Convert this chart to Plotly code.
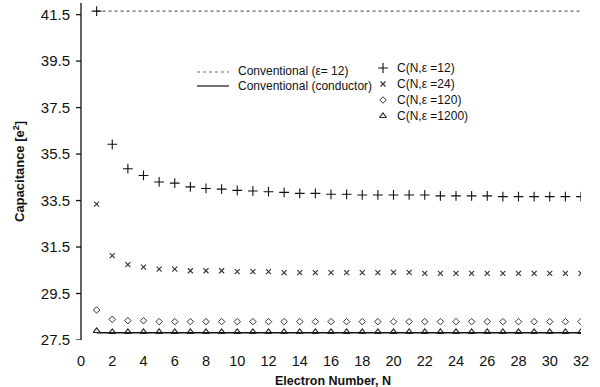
import plotly.graph_objects as go

# ---- data ----
N = list(range(1, 33))
c_eps12 = [41.65, 35.92, 34.87, 34.58, 34.30, 34.25, 34.09, 34.02, 33.99, 33.94,
           33.91, 33.88, 33.85, 33.81, 33.81, 33.77, 33.77, 33.74, 33.74, 33.74,
           33.74, 33.74, 33.70, 33.70, 33.70, 33.70, 33.67, 33.67, 33.67, 33.67,
           33.67, 33.67]
c_eps24 = [33.35, 31.13, 30.74, 30.64, 30.55, 30.55, 30.48, 30.48, 30.48, 30.44,
           30.44, 30.44, 30.40, 30.40, 30.40, 30.40, 30.40, 30.40, 30.40, 30.41,
           30.41, 30.37, 30.37, 30.37, 30.37, 30.37, 30.37, 30.37, 30.37, 30.37,
           30.37, 30.37]
c_eps120 = [28.79, 28.39, 28.33, 28.33] + [28.29] * 28
c_eps1200 = [27.89] + [27.85] * 31
conv_eps12 = 41.65
conv_conductor = 27.81
conv_N = [1, 32]

x_ticks = list(range(0, 33, 2))
y_ticks = [27.5, 29.5, 31.5, 33.5, 35.5, 37.5, 39.5, 41.5]

line_labels = ["Conventional (\u03b5= 12)", "Conventional (conductor)"]
marker_labels = ["C(N,\u03b5 =12)", "C(N,\u03b5 =24)", "C(N,\u03b5 =120)", "C(N,\u03b5 =1200)"]

FONT = "Liberation Sans, Arial, sans-serif"

# plot-area geometry (pixels); x range starts slightly below 0 so that the
# y-axis line (at x = 0) and its outside ticks lie inside the drawing area
L, R, T, B = 75, 581, 3, 340
X_RANGE = [-0.384, 32]
Y_RANGE = [27.5, 42.0]
TICK_LEN = 0.32  # in x units (~5 px)


def px_paper(px, py):
    return (px - L) / (R - L), (B - py) / (B - T)


def px_data(px, py):
    xp, yp = px_paper(px, py)
    return (X_RANGE[0] + xp * (X_RANGE[1] - X_RANGE[0]),
            Y_RANGE[0] + yp * (Y_RANGE[1] - Y_RANGE[0]))


fig = go.Figure()

# y-axis line and tick marks, drawn as traces on the axis scale
fig.add_trace(go.Scatter(x=[0, 0], y=Y_RANGE, mode="lines",
                         line=dict(color="#111111", width=1.3),
                         showlegend=False, hoverinfo="skip"))
tx, ty = [], []
for t in y_ticks:
    tx += [-TICK_LEN, 0, None]
    ty += [t, t, None]
fig.add_trace(go.Scatter(x=tx, y=ty, mode="lines",
                         line=dict(color="#111111", width=1.3),
                         showlegend=False, hoverinfo="skip"))

fig.add_trace(go.Scatter(x=conv_N, y=[conv_eps12] * 2, mode="lines",
                         line=dict(color="#666666", width=1.3, dash="dot"),
                         showlegend=False))
fig.add_trace(go.Scatter(x=conv_N, y=[conv_conductor] * 2, mode="lines",
                         line=dict(color="#111111", width=1.4),
                         showlegend=False))

styles = [
    dict(symbol="cross-thin-open", size=7, line=dict(width=1.1, color="#111111"), color="#111111"),
    dict(symbol="x-thin-open", size=5, line=dict(width=1.1, color="#333333"), color="#333333"),
    dict(symbol="diamond-open", size=5, line=dict(width=1.0, color="#333333"), color="#333333"),
    dict(symbol="triangle-up-open", size=6, line=dict(width=1.1, color="#222222"), color="#222222"),
]
for ys, st in zip([c_eps12, c_eps24, c_eps120, c_eps1200], styles):
    fig.add_trace(go.Scatter(x=N, y=ys, mode="markers", marker=st, showlegend=False))

# ---- custom legend ----
shapes = []
for py, dash, col in [(72, "dot", "#666666"), (86, "solid", "#111111")]:
    x0, y0 = px_paper(197, py)
    x1, _ = px_paper(229, py)
    shapes.append(dict(type="line", xref="paper", yref="paper", x0=x0, x1=x1, y0=y0, y1=y0,
                       line=dict(color=col, width=1.2, dash=dash)))

leg_rows = [68, 84, 100, 116]
for py, st in zip(leg_rows, styles):
    xd, yd = px_data(383, py)
    fig.add_trace(go.Scatter(x=[xd], y=[yd], mode="markers", marker=st,
                             showlegend=False, hoverinfo="skip"))

annos = []
for py, txt in zip([71, 86], line_labels):
    xp, yp = px_paper(236, py)
    annos.append(dict(x=xp, y=yp, xref="paper", yref="paper", text=txt, showarrow=False,
                      xanchor="left", yanchor="middle",
                      font=dict(family=FONT, size=12, color="#111111")))
for py, txt in zip(leg_rows, marker_labels):
    xp, yp = px_paper(395, py)
    annos.append(dict(x=xp, y=yp, xref="paper", yref="paper", text=txt, showarrow=False,
                      xanchor="left", yanchor="middle",
                      font=dict(family=FONT, size=12, color="#111111")))

# axis titles
xp, yp = px_paper(19, 172)
annos.append(dict(x=xp, y=yp, xref="paper", yref="paper",
                  text="<b>Capacitance [e<sup>2</sup>]</b>",
                  showarrow=False, textangle=-90, xanchor="center", yanchor="middle",
                  font=dict(family=FONT, size=13, color="#111111")))
xp, yp = px_paper(333, 381)
annos.append(dict(x=xp, y=yp, xref="paper", yref="paper",
                  text="<b>Electron Number, N</b>",
                  showarrow=False, xanchor="center", yanchor="middle",
                  font=dict(family=FONT, size=12.5, color="#111111")))

fig.update_layout(
    width=600, height=387,
    margin=dict(l=L, r=600 - R, t=T, b=387 - B),
    paper_bgcolor="white", plot_bgcolor="rgba(0,0,0,0)",
    font=dict(family=FONT, color="#111111"),
    annotations=annos,
    shapes=shapes,
    xaxis=dict(range=X_RANGE, tickvals=x_ticks, ticktext=[str(v) for v in x_ticks],
               showgrid=False, zeroline=False, showline=False,
               ticks="outside", ticklen=8, tickcolor="rgba(0,0,0,0)",
               tickfont=dict(size=14.5), automargin=False),
    yaxis=dict(range=Y_RANGE, tickvals=y_ticks, ticktext=[f"{v:.1f}" for v in y_ticks],
               showgrid=False, zeroline=False, showline=False,
               ticks="outside", ticklen=1, tickcolor="rgba(0,0,0,0)",
               tickfont=dict(size=15), automargin=False),
)

fig.write_html("out.html", config={"displayModeBar": False},
               post_script="document.body.style.margin='0';document.body.style.overflow='hidden';")
